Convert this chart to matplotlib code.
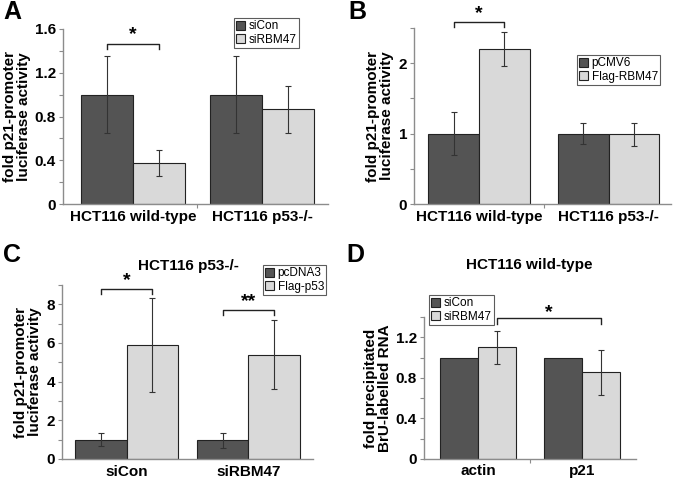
import matplotlib
matplotlib.use("Agg")
import matplotlib.pyplot as plt
import numpy as np

plt.rcParams['font.family'] = ['Liberation Sans', 'DejaVu Sans']

# ---------------- data ----------------
a_cats = ["HCT116 wild-type", "HCT116 p53-/-"]
a_series = ["siCon", "siRBM47"]
a_vals = [[1.0, 1.0], [0.375, 0.865]]
a_errs = [[0.35, 0.355], [0.12, 0.215]]

b_cats = ["HCT116 wild-type", "HCT116 p53-/-"]
b_series = ["pCMV6", "Flag-RBM47"]
b_vals = [[1.0, 1.0], [2.2, 0.99]]
b_errs = [[0.31, 0.15], [0.245, 0.16]]

c_cats = ["siCon", "siRBM47"]
c_series = ["pcDNA3", "Flag-p53"]
c_vals = [[1.0, 0.97], [5.9, 5.4]]
c_errs = [[0.35, 0.38], [2.45, 1.8]]

d_cats = ["actin", "p21"]
d_series = ["siCon", "siRBM47"]
d_vals = [[1.0, 1.0], [1.1, 0.855]]
d_errs = [[0.0, 0.0], [0.16, 0.22]]

W, H = 673, 478
fig = plt.figure(figsize=(W / 100, H / 100), dpi=100)

DARK = "#545454"
LIGHT = "#d9d9d9"
AXC = "#8c8c8c"
FS = 11


def px_axes(l, t, r, b):
    return fig.add_axes([l / W, 1 - b / H, (r - l) / W, (b - t) / H])


def draw_panel(ax, cats, series, vals, errs, width, xlim, ylim, major, minor,
               fmt, ylabel, divider=True):
    x = np.arange(len(cats))
    cols = [DARK, LIGHT]
    for i, (s, v, e) in enumerate(zip(series, vals, errs)):
        off = (i - 0.5) * width
        ax.bar(x + off, v, width, color=cols[i], edgecolor="#222222",
               linewidth=0.8, label=s, zorder=2)
        ee = np.array(e, dtype=float)
        mask = ee > 0
        if mask.any():
            ax.errorbar((x + off)[mask], np.array(v)[mask], yerr=ee[mask],
                        fmt="none", ecolor="#333333", elinewidth=0.8,
                        capsize=2.5, capthick=0.8, zorder=3)
    ax.set_xlim(*xlim)
    ax.set_ylim(*ylim)
    ax.set_yticks(major)
    ax.set_yticklabels([fmt(t) for t in major], fontsize=FS, fontweight="bold")
    ax.set_yticks(minor, minor=True)
    ax.tick_params(axis="y", which="both", direction="out", length=3,
                   color=AXC, width=0.8, pad=2)
    if divider:
        ax.set_xticks([0.5])
    else:
        ax.set_xticks([])
    ax.set_xticklabels([])
    ax.tick_params(axis="x", which="both", direction="out", length=3,
                   color=AXC, width=0.8)
    for xi, c in zip(x, cats):
        ax.text(xi, -0.035, c, transform=ax.get_xaxis_transform(),
                ha="center", va="top", fontsize=FS, fontweight="bold")
    for sp in ["top", "right"]:
        ax.spines[sp].set_visible(False)
    for sp in ["left", "bottom"]:
        ax.spines[sp].set_color(AXC)
        ax.spines[sp].set_linewidth(1.0)
    ax.set_ylabel(ylabel, fontsize=FS, fontweight="bold", linespacing=1.0,
                  labelpad=3)


def bracket(ax, x0, x1, y, drop, label, star_off):
    ax.plot([x0, x0, x1, x1], [y - drop, y, y, y - drop], color="#222222",
            linewidth=1.0, clip_on=False, zorder=4)
    ax.text((x0 + x1) / 2, y + star_off, label, ha="center", va="center",
            fontsize=14, fontweight="bold", clip_on=False)


def legend(ax, l, t):
    lg = ax.legend(loc="upper left", bbox_to_anchor=(l / W, 1 - t / H),
                   bbox_transform=fig.transFigure, fontsize=8.5,
                   frameon=True, fancybox=False, edgecolor="#333333",
                   handlelength=0.75, handleheight=0.75, handletextpad=0.3,
                   borderpad=0.2, labelspacing=0.1, borderaxespad=0)
    lg.get_frame().set_linewidth(0.8)


ylab = "fold p21-promoter\nluciferase activity"

# ---- Panel A ----
axA = px_axes(63, 29, 328, 204)
draw_panel(axA, a_cats, a_series, a_vals, a_errs, 0.40, (-0.54, 1.51),
           (0, 1.6), [0, 0.4, 0.8, 1.2, 1.6], np.arange(0, 1.61, 0.2),
           lambda t: "0" if t == 0 else f"{t:.1f}", ylab)
legend(axA, 234, 18)
bracket(axA, -0.2, 0.2, 1.46, 0.045, "*", 0.085)

# ---- Panel B ----
axB = px_axes(414, 28, 671, 204)
draw_panel(axB, b_cats, b_series, b_vals, b_errs, 0.39, (-0.50, 1.48),
           (0, 2.5), [0, 1, 2], np.arange(0, 2.51, 0.5),
           lambda t: f"{t:.0f}", ylab)
legend(axB, 577, 55)
bracket(axB, -0.195, 0.195, 2.58, 0.07, "*", 0.12)

# ---- Panel C ----
axC = px_axes(62, 285, 313, 459)
draw_panel(axC, c_cats, c_series, c_vals, c_errs, 0.42, (-0.53, 1.53),
           (0, 9), [0, 2, 4, 6, 8], np.arange(0, 9.01, 1),
           lambda t: f"{t:.0f}", ylab, divider=False)
legend(axC, 263, 265)
bracket(axC, -0.21, 0.21, 8.8, 0.26, "*", 0.45)
bracket(axC, 0.79, 1.21, 7.7, 0.26, "**", 0.45)
fig.text(188 / W, 1 - 266 / H, "HCT116 p53-/-", fontsize=FS,
         fontweight="bold", ha="center", va="center")

# ---- Panel D ----
axD = px_axes(424, 317, 636, 459)
draw_panel(axD, d_cats, d_series, d_vals, d_errs, 0.365, (-0.52, 1.52),
           (0, 1.4), [0, 0.4, 0.8, 1.2], np.arange(0, 1.41, 0.2),
           lambda t: "0" if t == 0 else f"{t:.1f}",
           "fold precipitated\nBrU-labelled RNA")
legend(axD, 429, 295)
bracket(axD, 0.1825, 1.1825, 1.39, 0.06, "*", 0.055)
fig.text(529 / W, 1 - 265 / H, "HCT116 wild-type", fontsize=FS,
         fontweight="bold", ha="center", va="center")

# ---- panel letters ----
for letter, (px, py) in zip("ABCD", [(3, 12), (348, 12), (3, 255), (346, 255)]):
    fig.text(px / W, 1 - py / H, letter, fontsize=18, fontweight="bold",
             ha="left", va="center")

fig.savefig("out.png", dpi=100)
